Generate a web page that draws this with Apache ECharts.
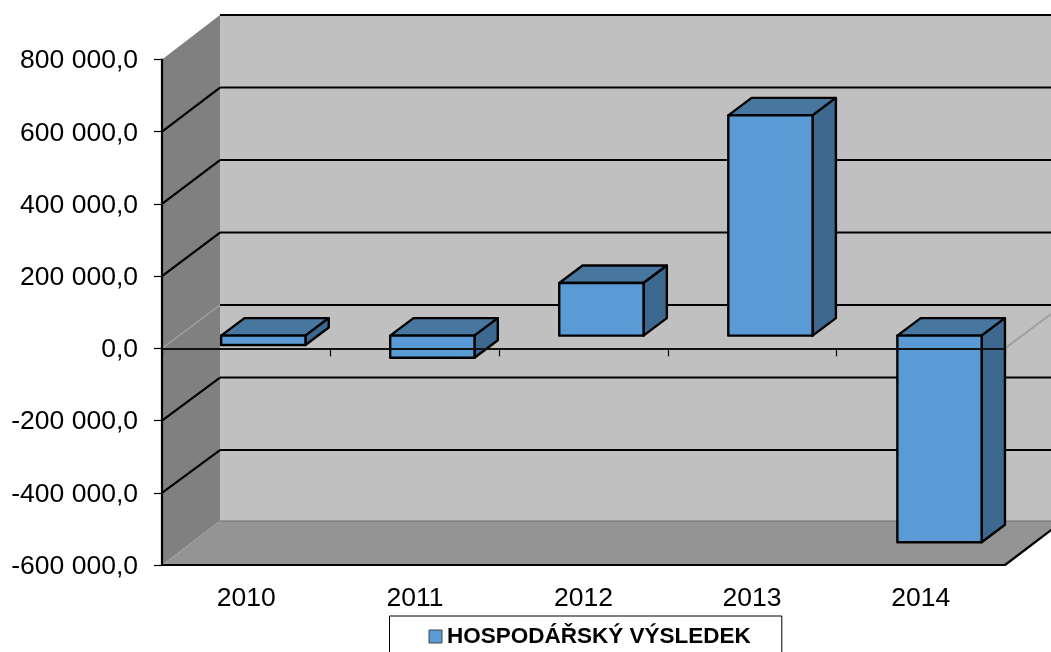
<!DOCTYPE html>
<html><head><meta charset="utf-8">
<style>html,body{margin:0;padding:0;background:#fff;overflow:hidden}#c{width:1051px;height:652px}</style>
<script src="https://cdn.jsdelivr.net/npm/echarts@6/dist/echarts.min.js"></script>
</head><body><div id="c"></div>
<script>
const categories = ['2010','2011','2012','2013','2014'];
const seriesName = 'HOSPODÁŘSKÝ VÝSLEDEK';
const resultValues = [-26000,-61000,146000,610000,-572000];
const yTicks = [-600000,-400000,-200000,0,200000,400000,600000,800000];
const yTickLabels = ['-600 000,0','-400 000,0','-200 000,0','0,0','200 000,0','400 000,0','600 000,0','800 000,0'];

const FONT = '"Liberation Sans", Arial, sans-serif';
const DEPTH = {x:58, y:-44.5};           // whole chart depth
const BACK_SCALE = 1.004;                // back wall rows are slightly taller than the front scale
const BAR_OFF = {x:17, y:-12.7};         // bar front plane
const BAR_STEP = 0.45;                   // bars drift slightly to the right of the axis bands
const BAR_DEPTH = {x:23.3, y:-17.5};     // bar depth

const chart = echarts.init(document.getElementById('c'), null, {renderer:'canvas'});

function backY(y, cs){
  const raw = cs.y + DEPTH.y + (y-cs.y)*BACK_SCALE;
  return Math.min(raw, cs.y+cs.height+DEPTH.y+0.5);
}
function wallsRender(params, api){
  const cs = params.coordSys;
  const l = cs.x, r = cs.x+cs.width, t = cs.y, b = cs.y+cs.height;
  const d = DEPTH, bt = backY(t,cs), bb = backY(b,cs);
  return {type:'group', children:[
    {type:'polygon', shape:{points:[[l+d.x,bt],[r+d.x,bt],[r+d.x,bb],[l+d.x,bb]]}, style:{fill:'#C0C0C0'}},
    {type:'polygon', shape:{points:[[l,t],[l+d.x,bt],[l+d.x,bb],[l,b]]}, style:{fill:'#808080'}},
    {type:'polygon', shape:{points:[[l,b],[l+d.x,bb],[r+d.x,bb],[r,b]]}, style:{fill:'#949494'}},
    {type:'line', shape:{x1:r,y1:b,x2:r+d.x,y2:bb}, style:{stroke:'#000',lineWidth:2.2}}
  ]};
}
function gridRender(params, api){
  const cs = params.coordSys;
  const v = api.value(0);
  const y = api.coord([0,v])[1];
  const by = backY(y,cs);
  const l = cs.x, r = cs.x+cs.width, d = DEPTH;
  const kids = [];
  const floor = v === yTicks[0], top = v === yTicks[yTicks.length-1], zero = v === 0;
  kids.push({type:'line', shape:{x1:l+d.x,y1:by,x2:r+d.x,y2:by},
    style:{stroke: floor ? '#6a6a6a' : '#000', lineWidth: floor ? 1 : 2.2}});
  if(zero){
    kids.push({type:'line', shape:{x1:l,y1:y,x2:l+d.x,y2:by}, style:{stroke:'#a0a0a0',lineWidth:1.5}});
    kids.push({type:'line', shape:{x1:r,y1:y,x2:r+d.x,y2:by}, style:{stroke:'#a0a0a0',lineWidth:2}});
  } else if(!top && !floor){
    kids.push({type:'line', shape:{x1:l,y1:y,x2:l+d.x,y2:by}, style:{stroke:'#000',lineWidth:2.2}});
  }
  return {type:'group', children:kids};
}
function barRender(params, api){
  const i = api.value(0), v = api.value(1);
  const w = api.size([1,0])[0]*0.5;
  const c = api.coord([i,0]), p = api.coord([i,v]);
  const x0 = c[0]-w/2+BAR_OFF.x+i*BAR_STEP, x1 = x0+w;
  const yBase = c[1]+BAR_OFF.y, yVal = p[1]+BAR_OFF.y;
  const yT = Math.min(yBase,yVal), yB = Math.max(yBase,yVal);
  const dx = BAR_DEPTH.x, dy = BAR_DEPTH.y;
  const stroke = {stroke:'#000', lineWidth:2.4, lineJoin:'round'};
  return {type:'group', children:[
    {type:'polygon', shape:{points:[[x0,yT],[x1,yT],[x1+dx,yT+dy],[x0+dx,yT+dy]]}, style:Object.assign({fill:'#47769F'},stroke)},
    {type:'polygon', shape:{points:[[x1,yT],[x1+dx,yT+dy],[x1+dx,yB+dy],[x1,yB]]}, style:Object.assign({fill:'#3D688F'},stroke)},
    {type:'rect', shape:{x:x0,y:yT,width:w,height:yB-yT}, style:Object.assign({fill:'#5B9BD5'},stroke)}
  ]};
}

chart.setOption({
  animation:false,
  backgroundColor:'#fff',
  grid:{left:162, right:46, top:59.5, bottom:87, containLabel:false},
  legend:{
    left:389.5, top:616, orient:'horizontal',
    data:[{name:seriesName, icon:'rect', itemStyle:{color:'#5B9BD5',borderColor:'#444',borderWidth:1}}],
    itemWidth:13, itemHeight:13,
    padding:[9,31,20,39],
    borderColor:'#000', borderWidth:1, backgroundColor:'#fff',
    selectedMode:false,
    textStyle:{fontFamily:FONT,fontSize:22.5,fontWeight:'bold',color:'#000'}
  },
  xAxis:[
    {type:'category', data:categories, position:'bottom', z:5,
     axisLine:{onZero:false, lineStyle:{color:'#000',width:2.2}},
     axisTick:{show:false},
     axisLabel:{fontFamily:FONT,fontSize:26.5,color:'#000',margin:20},
     splitLine:{show:false}},
    {type:'category', data:categories, position:'bottom', z:5,
     axisLine:{onZero:true, lineStyle:{color:'#111',width:1.8}},
     axisTick:{show:true, length:8, lineStyle:{color:'#000',width:1.2}},
     axisLabel:{show:false},
     splitLine:{show:false}}
  ],
  yAxis:[{type:'value', min:-600000, max:800000, interval:200000, z:5,
    axisLine:{show:true, onZero:false, lineStyle:{color:'#000',width:2.2}},
    axisTick:{show:true, length:8, lineStyle:{color:'#000',width:1.2}},
    axisLabel:{fontFamily:FONT,fontSize:26.5,color:'#000',margin:24,verticalAlign:'top',lineHeight:3,
      formatter:(v)=>yTickLabels[yTicks.indexOf(v)]},
    splitLine:{show:false}}],
  series:[
    {type:'custom', name:'walls', z:1, silent:true, xAxisIndex:0, yAxisIndex:0, clip:false,
     renderItem:wallsRender, data:[0], encode:{x:0,y:0}},
    {type:'custom', name:'grid', z:1, silent:true, xAxisIndex:0, yAxisIndex:0, clip:false,
     renderItem:gridRender, data:yTicks.map(v=>[v]), encode:{y:0}},
    {type:'custom', name:seriesName, z:2, xAxisIndex:0, yAxisIndex:0, clip:false,
     itemStyle:{color:'#5B9BD5'},
     renderItem:barRender,
     data:resultValues.map((v,i)=>[i,v]), encode:{x:0,y:1}}
  ]
});
</script></body></html>
